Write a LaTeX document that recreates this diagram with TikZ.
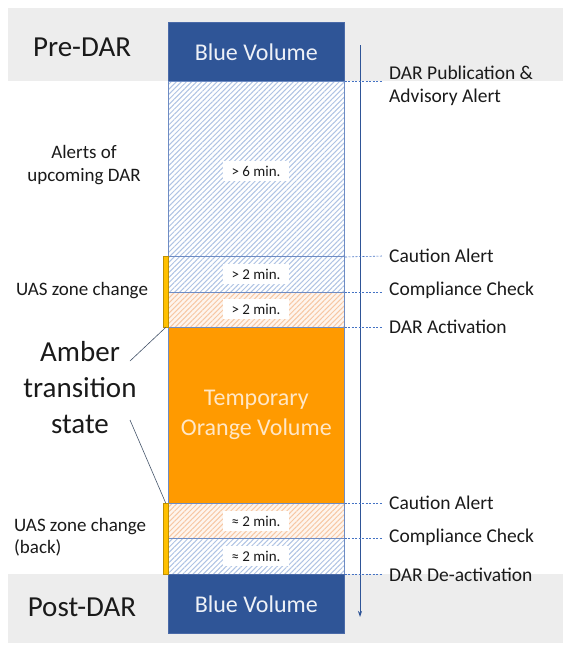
\documentclass[tikz,border=0pt]{standalone}
\usepackage{fontspec}
\setmainfont{Carlito}
\usetikzlibrary{patterns.meta,arrows.meta}
\definecolor{bandgray}{HTML}{EDEDED}
\definecolor{volblue}{HTML}{2F5597}
\definecolor{volborder}{HTML}{4A6AA8}
\definecolor{amber}{HTML}{FF9A00}
\definecolor{temptext}{HTML}{FFE7C6}
\definecolor{hatchblue}{HTML}{AFC3E4}
\definecolor{hatchorange}{HTML}{F7C7A4}
\definecolor{orangebg}{HTML}{FEF5EE}
\definecolor{colline}{HTML}{6E8CC4}
\definecolor{txt}{HTML}{1A1A1A}
\definecolor{annot}{HTML}{44546A}
\definecolor{gold}{HTML}{FFC000}
\definecolor{golddark}{HTML}{BF9000}
\definecolor{dashblue}{HTML}{4472C4}
\definecolor{arrowblue}{HTML}{2F5597}
\begin{document}
\begin{tikzpicture}[x=1pt,y=-1pt,
  seg/.style={rectangle,minimum width=176pt,inner sep=0pt,anchor=north west,draw=colline,line width=0.6pt},
  vol/.style={seg,fill=volblue,draw=volborder,text=white!92!volblue,font=\fontsize{24}{28}\selectfont},
  hatchb/.style={seg,preaction={fill=white},pattern={Lines[angle=45,distance=3.6pt,line width=1pt]},pattern color=hatchblue},
  hatcho/.style={seg,preaction={fill=orangebg},pattern={Lines[angle=45,distance=3.6pt,line width=1pt]},pattern color=hatchorange},
  tbox/.style={fill=white,inner xsep=9pt,inner ysep=3pt,minimum height=20pt,text=txt,font=\fontsize{15}{17}\selectfont},
  lab/.style={anchor=west,inner xsep=6pt,inner ysep=0pt,text=txt,align=left,font=\fontsize{19.5}{23.5}\selectfont},
  llab/.style={text=txt,align=center,font=\fontsize{19}{22.5}\selectfont},
  phase/.style={text=txt,font=\fontsize{29}{34}\selectfont},
  dashconn/.style={draw=dashblue,line width=0.6pt,dash pattern=on 2pt off 1.5pt},
  ybar/.style={rectangle,minimum width=5pt,inner sep=0pt,anchor=north west,fill=gold,draw=golddark,line width=0.4pt},
  annotline/.style={draw=annot,line width=0.6pt}
]
\useasboundingbox (0,0) rectangle (563,645);
% gray bands
\fill[bandgray] (8,8) rectangle (563,81);
\fill[bandgray] (8,574) rectangle (563,643);
% column
\node[vol,minimum height=59pt] (bluetop) at (168,22) {Blue Volume};
\node[hatchb,minimum height=175pt] (h1) at (168,81) {};
\node[hatchb,minimum height=36pt] (h2) at (168,256) {};
\node[hatcho,minimum height=35pt] (h3) at (168,292) {};
\node[seg,fill=amber,minimum height=176pt,text=temptext,align=center,font=\fontsize{24}{30}\selectfont] (orange) at (168,327) {Temporary\\Orange Volume};
\node[hatcho,minimum height=35pt] (h4) at (168,503) {};
\node[hatchb,minimum height=36pt] (h5) at (168,538) {};
\node[vol,minimum height=59pt] (bluebot) at (168,574) {Blue Volume};
% time boxes
\node[tbox] (t1) at (256,171) {> 6 min.};
\node[tbox] (t2) at (256,274) {> 2 min.};
\node[tbox] (t3) at (256,309) {> 2 min.};
\node[tbox] (t4) at (256,521) {≈ 2 min.};
\node[tbox] (t5) at (256,556) {≈ 2 min.};
% yellow bars
\node[ybar,minimum height=71pt] (yb1) at (163,256) {};
\node[ybar,minimum height=71pt] (yb2) at (163,503) {};
% time arrow
\coordinate (arrtop) at (360,45);
\coordinate (arrbot) at (360,617);
\draw[arrowblue,line width=0.8pt,-{Stealth[length=6pt,width=4pt]}] (arrtop) -- (arrbot);
% right labels
\node[lab] (pub) at (383,86) {DAR Publication \&\\Advisory Alert};
\node[lab] (caut1) at (383,256) {Caution Alert};
\node[lab] (comp1) at (383,290) {Compliance Check};
\node[lab] (act) at (383,327) {DAR Activation};
\node[lab] (caut2) at (383,503) {Caution Alert};
\node[lab] (comp2) at (383,537) {Compliance Check};
\node[lab] (deact) at (383,575) {DAR De-activation};
% dashed connectors
\draw[dashconn] (bluetop.south east) -- (bluetop.south east -| pub.west);
\draw[dashconn] (h1.south east) -- (caut1.west);
\draw[dashconn] (h2.south east) -- (comp1.west |- h2.south east);
\draw[dashconn] (h3.south east) -- (act.west |- h3.south east);
\draw[dashconn] (orange.south east) -- (caut2.west |- orange.south east);
\draw[dashconn] (h4.south east) -- (comp2.west |- h4.south east);
\draw[dashconn] (h5.south east) -- (deact.west |- h5.south east);
% left labels
\node[phase] (pre) at (82,47) {Pre-DAR};
\node[phase] (post) at (82,607) {Post-DAR};
\node[llab] (alerts) at (84,165) {Alerts of\\upcoming DAR};
\node[llab] (uas1) at (82,291) {UAS zone change};
\node[llab,align=left,anchor=west,inner sep=0pt] (uas2) at (14,537) {UAS zone change\\(back)};
\node[phase,align=center,font=\fontsize{29}{36}\selectfont] (amberlab) at (80,388) {Amber\\transition\\state};
% annotation lines
\coordinate (an1) at (130,361);
\coordinate (an2) at (130,420);
\draw[annotline] (an1) -- (yb1.south);
\draw[annotline] (an2) -- (yb2.north);
\end{tikzpicture}
\end{document}
